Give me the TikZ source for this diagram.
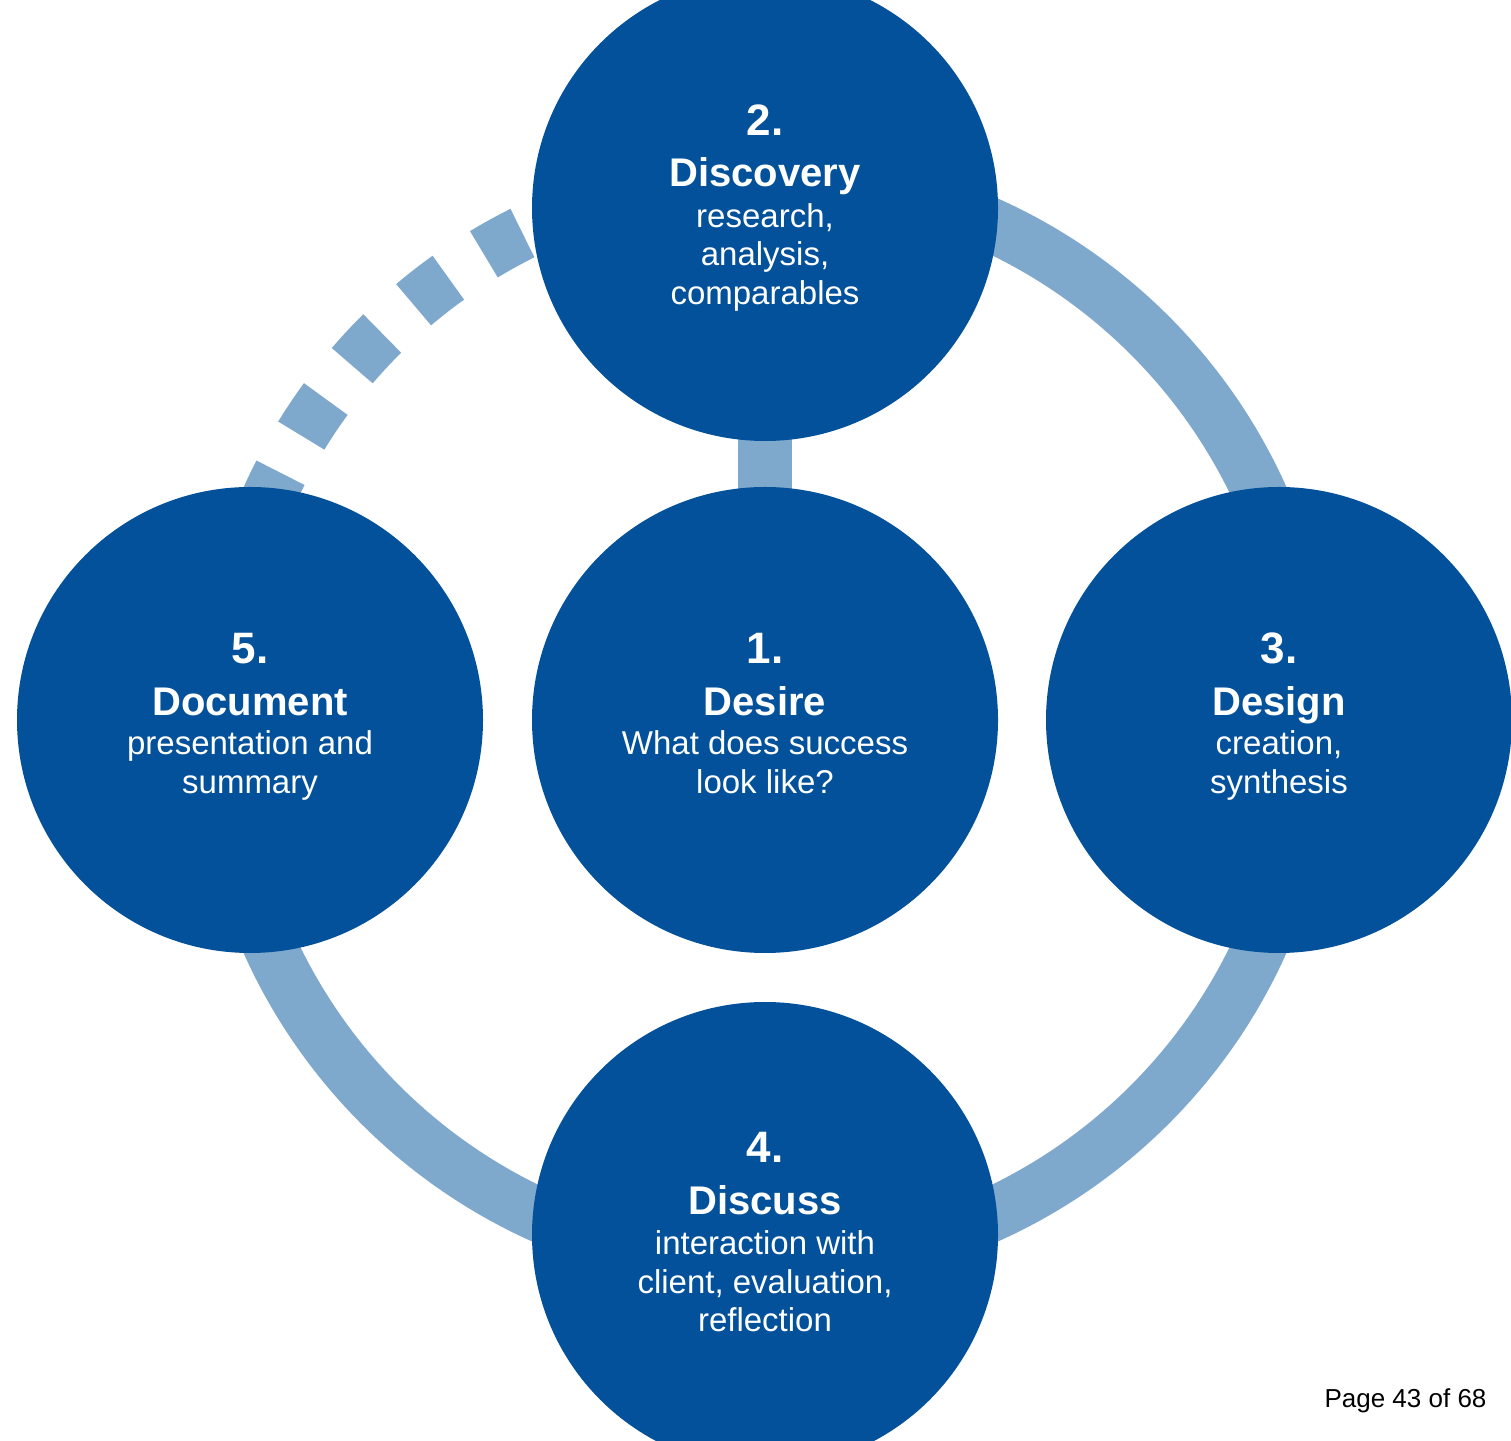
\documentclass[tikz,border=0pt]{standalone}
\usepackage{fontspec}
\setmainfont{Liberation Sans}
\definecolor{deepblue}{RGB}{2,81,154}
\definecolor{paleblue}{RGB}{127,168,205}
\begin{document}
\begin{tikzpicture}[x=1pt,y=1pt,
  stage/.style={circle,fill=deepblue,minimum size=466pt,inner sep=0pt},
  band/.style={draw=paleblue,line width=54pt},
  num/.style={anchor=base,text=white,font=\bfseries\fontsize{44}{50}\selectfont},
  ttl/.style={anchor=base,text=white,font=\bfseries\fontsize{40}{46}\selectfont},
  sub/.style={anchor=base,text=white,font=\fontsize{33}{39}\selectfont},
  pagenum/.style={anchor=base east,text=black,font=\fontsize{26}{30}\selectfont}]
\useasboundingbox (0,0) rectangle (1511,1440);
\clip (0,0) rectangle (1511,1440);
\fill[white] (0,0) rectangle (1511,1440);

% centres of the five stages
\coordinate (o1) at (765,720);
\coordinate (o2) at (765,1232);
\coordinate (o3) at (1279,720);
\coordinate (o4) at (765,205);
\coordinate (o5) at (250,720);

% the cycle: solid from Discovery round to Document, dashed back to Discovery
\draw[band] ([shift={(90:544)}]o1) arc[start angle=90,end angle=-180,radius=544];
\draw[band,dash pattern=on 44pt off 42.6pt]
  ([shift={(157.6:544)}]o1) arc[start angle=157.6,end angle=90,radius=544];
% link between Desire and Discovery
\draw[band] (o2) -- (o1);

% stage discs
\node[stage] (c1) at (o1) {};
\node[stage] (c2) at (o2) {};
\node[stage] (c3) at (o3) {};
\node[stage] (c4) at (o4) {};
\node[stage] (c5) at (o5) {};

% 1. Desire
\node[num] (n1) at ([yshift=56]c1.center) {1.};
\node[ttl] (h1) at ([yshift=4.5]c1.center) {Desire};
\node[sub] (s1a) at ([yshift=-35]c1.center) {What does success};
\node[sub] (s1b) at ([yshift=-73.5]c1.center) {look like?};

% 2. Discovery
\node[num] (n2) at ([yshift=72.5]c2.center) {2.};
\node[ttl] (h2) at ([yshift=21]c2.center) {Discovery};
\node[sub] (s2a) at ([yshift=-19.5]c2.center) {research,};
\node[sub] (s2b) at ([yshift=-58]c2.center) {analysis,};
\node[sub] (s2c) at ([yshift=-96.5]c2.center) {comparables};

% 3. Design
\node[num] (n3) at ([yshift=56]c3.center) {3.};
\node[ttl] (h3) at ([yshift=4.5]c3.center) {Design};
\node[sub] (s3a) at ([yshift=-35]c3.center) {creation,};
\node[sub] (s3b) at ([yshift=-73.5]c3.center) {synthesis};

% 4. Discuss
\node[num] (n4) at ([yshift=72.5]c4.center) {4.};
\node[ttl] (h4) at ([yshift=21]c4.center) {Discuss};
\node[sub] (s4a) at ([yshift=-19.5]c4.center) {interaction with};
\node[sub] (s4b) at ([yshift=-58]c4.center) {client, evaluation,};
\node[sub] (s4c) at ([yshift=-96.5]c4.center) {reflection};

% 5. Document
\node[num] (n5) at ([yshift=56]c5.center) {5.};
\node[ttl] (h5) at ([yshift=4.5]c5.center) {Document};
\node[sub] (s5a) at ([yshift=-35]c5.center) {presentation and};
\node[sub] (s5b) at ([yshift=-73.5]c5.center) {summary};

% page footer
\node[pagenum] (pg) at (1490,33) {Page 43 of 68};
\end{tikzpicture}
\end{document}
